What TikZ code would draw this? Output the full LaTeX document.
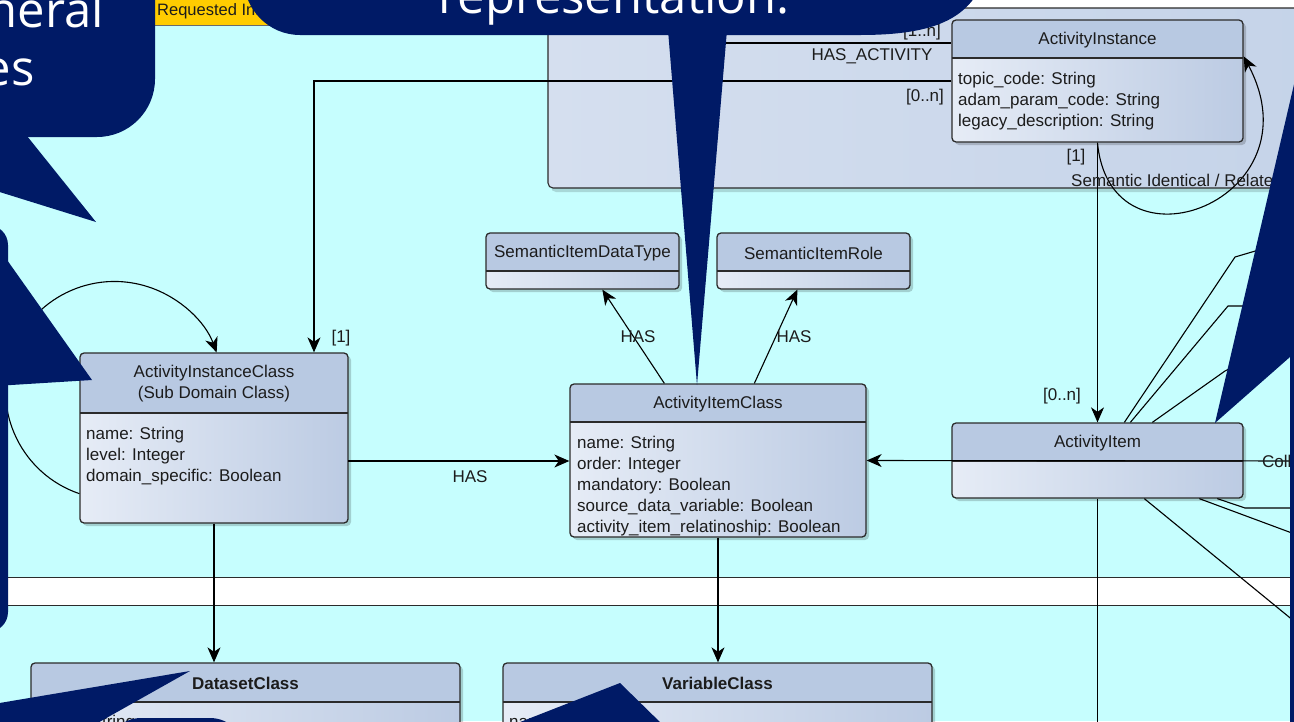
\documentclass[tikz,border=0pt]{standalone}
\usepackage{fontspec}
\setmainfont{Liberation Sans}
\newfontfamily\bubblefont{Open Sans}
\usetikzlibrary{arrows.meta,calc,fit}

\definecolor{bg}{HTML}{C6FEFE}
\definecolor{navy}{HTML}{001A66}
\definecolor{hdr}{HTML}{B8C9E2}
\definecolor{bodyL}{HTML}{E6ECF6}
\definecolor{bodyR}{HTML}{BCCBE3}
\definecolor{pkgL}{HTML}{D5DFEF}
\definecolor{pkgR}{HTML}{C3D2E8}
\definecolor{edge}{HTML}{2B2B2B}
\definecolor{ink}{HTML}{1C1C1C}
\definecolor{note}{HTML}{FFCC00}

\tikzset{
  uml/.style={font=\fontsize{17}{21}\selectfont, text=ink, inner sep=0pt},
  ttl/.style={uml, align=center},
  attr/.style={uml, anchor=base west},
  lbl/.style={uml},
  conn/.style={draw=black, line width=1.1pt},
  arr/.style={conn, -{Stealth[length=15pt,width=13pt,inset=4.5pt]}},
  boxedge/.style={draw=edge, line width=1.3pt, rounded corners=4pt},
  bubble/.style={fill=navy},
  bubbletext/.style={text=white, font=\bubblefont\fontsize{49}{58}\selectfont, inner sep=0pt},
}

% UML class box: name, x1, y1, x2, y2, header bottom, title
\newcommand\umlclass[7]{%
  \fill[black,opacity=.18,rounded corners=4pt] (#2+3,#3+3) rectangle (#4+3,#5+3);
  \begin{scope}
    \clip[rounded corners=4pt] (#2,#3) rectangle (#4,#5);
    \shade[left color=bodyL,right color=bodyR] (#2,#6) rectangle (#4,#5);
    \fill[hdr] (#2,#3) rectangle (#4,#6);
  \end{scope}
  \draw[edge,line width=1.3pt] (#2,#6) -- (#4,#6);
  \node[fit={(#2,#3) (#4,#5)}, inner sep=0pt, boxedge] (#1) {};
  \node[ttl] at ({(#2+#4)/2},{(#3+#6)/2+1}) {#7};
}

\begin{document}
\begin{tikzpicture}[x=1pt,y=-1pt]
\useasboundingbox (0,0) rectangle (1294,721);

% canvas
\fill[bg] (0,0) rectangle (1294,721);
\fill[white] (0,0) rectangle (1294,7.5);
\fill[white] (0,577) rectangle (1294,605);
\draw[edge,line width=1pt] (0,577) -- (1294,577) (0,605) -- (1294,605);

% note
\fill[note] (154,-10) rectangle (300,25);
\draw[edge!70,line width=.8pt] (154,-10) -- (154,25) -- (300,25);
\node[uml, anchor=base west, font=\fontsize{16.5}{19}\selectfont] (note) at (157,15) {Requested Information};

% package
\fill[black,opacity=.15,rounded corners=5pt] (551,11) rectangle (1400,192);
\shade[left color=pkgL,right color=pkgR,rounded corners=5pt] (548,8) rectangle (1400,188);
\node[fit={(548,8) (1400,188)}, inner sep=0pt, draw=edge, line width=1.1pt, rounded corners=5pt] (pkg) {};

% classes
\umlclass{ai}{952}{20}{1243}{142}{58}{ActivityInstance}
\foreach \t [count=\i from 0] in {topic\_code: String, adam\_param\_code: String, legacy\_description: String}
  \node[attr] at (958,84+21*\i) {\t};

\umlclass{aic}{80}{353}{348}{523}{413}{ActivityInstanceClass\\(Sub Domain Class)}
\foreach \t [count=\i from 0] in {name: String, level: Integer, domain\_specific: Boolean}
  \node[attr] at (86,439+21*\i) {\t};

\umlclass{sidt}{486}{233}{679}{289}{271}{SemanticItemDataType}
\umlclass{sir}{717}{233}{910}{289}{271}{SemanticItemRole}

\umlclass{aitc}{570}{384}{866}{537}{422}{ActivityItemClass}
\foreach \t [count=\i from 0] in {name: String, order: Integer, mandatory: Boolean, source\_data\_variable: Boolean, activity\_item\_relatinoship: Boolean}
  \node[attr] at (577,448+21*\i) {\t};

\umlclass{aitem}{952}{423}{1243}{498}{461}{ActivityItem}

\umlclass{dsc}{31}{663}{460}{800}{702}{\bfseries DatasetClass}
\node[attr] at (37,727) {name: String};
\umlclass{vc}{503}{663}{932}{800}{702}{\bfseries VariableClass}
\node[attr] at (509,727) {name: String};

% connectors
\coordinate (k1) at (314,81);
\draw[arr] (ai.west) -- (k1) -- (k1 |- aic.north);
\node[lbl] at (341,338) {[1]};

\coordinate (k2) at (700,43);
\draw[conn] (k2) -- (k2 -| ai.west);
\node[lbl] at (872,56) {HAS\_ACTIVITY};
\node[lbl] at (925,97) {[0..n]};
\node[lbl] at (922,32) {[1..n]};

\draw[arr] ($(aic.south west)+(0,-30)$) arc[start angle=108.8, end angle=339.6, radius=109];

\coordinate (k4) at (348,461);
\draw[arr] (k4) -- (k4 -| aitc.west);
\node[lbl] at (470,477) {HAS};

\draw[arr] ($(aitc.north west)+(95,0)$) -- ($(sidt.south west)+(117,0)$);
\draw[arr] ($(aitc.north west)+(185,0)$) -- ($(sir.south west)+(81,0)$);
\node[lbl] at (638,337) {HAS};
\node[lbl] at (794,337) {HAS};

\coordinate (k5) at (1310,461);
\draw[arr] (k5) -- (aitc.east);
\node[lbl, anchor=west] at (1262,461) {Collection};

\draw[arr] (ai.south) -- (aitem.north);
\node[lbl] at (1076,157) {[1]};
\node[lbl] at (1062,396) {[0..n]};
\draw[arr] (ai.south) .. controls (1110,280) and (1320,200) .. ($(ai.north east)+(0,37)$);
\node[lbl, anchor=west] at (1071,180) {Semantic Identical / Related};

\coordinate (k6) at (1097.5,730);
\draw[conn] (aitem.south) -- (k6);

\draw[arr] (aic.south) -- (aic.south |- dsc.north);
\draw[arr] (aitc.south) -- (aitc.south |- vc.north);

% fan of links on the right of ActivityItem
\draw[conn] ($(aitem.north west)+(173,0)$) -- (1235,257) -- (1262,249);
\draw[conn] ($(aitem.north west)+(179,0)$) -- (1228,306) -- (1270,306);
\draw[conn] ($(aitem.north west)+(201,0)$) -- (1225,371) -- (1262,352);
\draw[conn] ($(aitem.south west)+(248,0)$) -- (1300,536);
\draw[conn] ($(aitem.south west)+(266,0)$) -- (1245,508) -- (1300,508);
\draw[conn] ($(aitem.south west)+(193,0)$) -- (1300,626);

% speech bubbles
\fill[bubble, rounded corners=58pt] (-120,-120) rectangle (155,137);
\fill[bubble] (27,136) -- (96,222) -- (-10,189) -- (-10,120) -- (27,120) -- cycle;
\node[bubbletext, anchor=base east] at (104,27) {neral};
\node[bubbletext, anchor=base east] at (35,85) {es};

\fill[bubble] (244,-40) -- (244,-21) arc[start angle=180, end angle=90, radius=56]
  -- (860,35) .. controls (945,35) and (978,14) .. (990,-40) -- cycle;
\fill[bubble] (668,30) -- (697,385) -- (727,30) -- cycle;
\node[bubbletext, anchor=base] at (614,13) {representation.};

\fill[bubble] (1215,423) -- (1316,-10) -- (1400,-10) -- (1400,800) -- (1290,800) -- (1290,357) -- cycle;

\fill[bubble] (-60,713) -- (190,671) -- (94,725) -- (-60,725) -- cycle;
\fill[bubble, rounded corners=35pt] (106,718) rectangle (245,900);

\fill[bubble] (510,726) -- (620,683) -- (664,726) -- cycle;

\fill[bubble, rounded corners=20pt] (-80,225) rectangle (8,632);
\fill[bubble] (-5,243) -- (92,380) -- (-5,386) -- cycle;
\end{tikzpicture}
\end{document}
